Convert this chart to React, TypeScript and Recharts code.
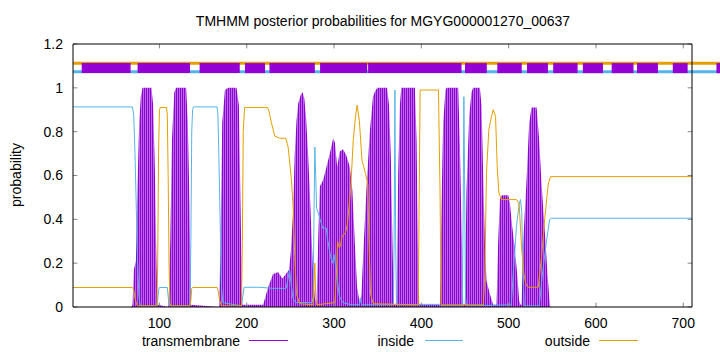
import React from 'react';
import { ComposedChart, Area, Line, XAxis, YAxis, ReferenceLine } from 'recharts';

// sequence range and axis ticks
const seqStart = 1;
const seqEnd = 710;
const xTicks = [100, 200, 300, 400, 500, 600, 700];
const yTicks = [0, 0.2, 0.4, 0.6, 0.8, 1, 1.2];

// posterior probabilities: [residue, probability]
const transmembrane: [number, number][] = [
  [1, 0], [68, 0], [69.2, 0.01], [70.7, 0.17], [73, 0.21], [74.9, 0.56], [76.8, 0.84], [78.7, 0.96],
  [80.6, 1], [90.9, 1], [92.8, 0.92], [94.7, 0.64], [96.7, 0.18], [97.8, 0.01], [110, 0],
  [110.5, 0.01], [112.4, 0.3], [114.3, 0.76], [117, 0.98], [119, 1], [130.6, 1], [132.5, 0.84],
  [134.5, 0.46], [136, 0.01], [168, 0], [168.4, 0.01], [170, 0.3], [171.9, 0.84], [175, 0.99],
  [178.8, 1], [188.3, 1], [191, 0.92], [192.9, 0.46], [194.8, 0.01], [218.8, 0.01], [224.5, 0.09],
  [230, 0.15], [235.8, 0.16], [240.8, 0.13], [244.6, 0.15], [248.4, 0.17], [250.5, 0.25],
  [253, 0.43], [255, 0.7], [257, 0.85], [259, 0.93], [262, 0.97], [264, 0.98], [266, 0.95],
  [268, 0.86], [270, 0.72], [272, 0.55], [274, 0.35], [276, 0.15], [278, 0.04], [280, 0.02],
  [281.8, 0.3], [283.7, 0.55], [287.5, 0.58], [291.4, 0.64], [295.2, 0.7], [299, 0.77], [301, 0.75],
  [303.6, 0.64], [306.6, 0.71], [310.4, 0.72], [314.2, 0.69], [318, 0.64], [321, 0.53], [323.7, 0.3],
  [326.4, 0.09], [329.5, 0.015], [331.4, 0.06], [333.3, 0.23], [337, 0.53], [340.8, 0.79],
  [344.6, 0.96], [347.7, 0.99], [350, 1], [360.7, 1], [363, 0.92], [365, 0.69], [366.9, 0.3],
  [368.4, 0.01], [371.6, 0.01], [373.5, 0.61], [375.4, 0.92], [377, 1], [392.6, 1], [394.5, 0.76],
  [396, 0.3], [397.6, 0.01], [421.2, 0.01], [423, 0.46], [425, 0.84], [427.6, 0.99], [428.8, 1],
  [442.2, 1], [444, 0.76], [446, 0.38], [448, 0.01], [449.8, 0.01], [451.7, 0.53], [454.8, 0.87],
  [457.4, 0.98], [459.4, 1], [467, 1], [468.9, 0.92], [470.8, 0.61], [472.7, 0.3], [474.6, 0.12],
  [478.4, 0.06], [482.2, 0.01], [486.1, 0.01], [488, 0.3], [490, 0.49], [492, 0.51], [499.6, 0.51],
  [501.5, 0.47], [504, 0.37], [507, 0.27], [509.8, 0.15], [512, 0.03], [513.6, 0.01], [514.8, 0.01],
  [516.7, 0.3], [520.5, 0.58], [523.5, 0.84], [526.2, 0.91], [532, 0.91], [535, 0.76], [537.7, 0.56],
  [541.5, 0.34], [544.5, 0.15], [547.2, 0.01], [548, 0], [710, 0],
];

const inside: [number, number][] = [
  [1, 0.913], [69, 0.913], [70.5, 0.88], [72, 0.7], [73.5, 0.45], [75, 0.2], [76.5, 0.05], [78, 0.005],
  [97, 0.005], [98, 0.03], [99, 0.075], [100, 0.089], [109, 0.089], [110, 0.05], [111, 0.01],
  [112, 0.005], [135, 0.005], [136, 0.3], [137, 0.8], [138, 0.9], [139, 0.913], [166, 0.913],
  [167, 0.88], [168, 0.7], [169.5, 0.4], [171, 0.1], [172.5, 0.02], [194, 0.005], [195.5, 0.05],
  [197, 0.09], [215, 0.09], [230, 0.085], [245, 0.085], [247, 0.12], [249, 0.17], [251, 0.1],
  [253, 0.04], [256, 0.02], [275, 0.02], [276, 0.05], [277, 0.4], [278, 0.73], [279, 0.6],
  [280, 0.45], [282, 0.43], [284, 0.4], [287, 0.36], [291, 0.36], [293, 0.3], [296, 0.23],
  [298, 0.2], [300, 0.24], [303, 0.15], [306, 0.05], [310, 0.02], [320, 0.01], [329, 0.01],
  [330, 0.04], [331.5, 0.01], [368, 0.01], [368.8, 0.3], [369.7, 0.99], [370.6, 0.3], [371.5, 0.01],
  [397, 0.01], [398.5, 0.012], [420, 0.012], [422, 0.005], [447, 0.005], [448, 0.5], [448.7, 0.96],
  [449.5, 0.6], [450.5, 0.05], [451.5, 0.005], [503, 0.01], [505.2, 0.15], [509, 0.37], [512, 0.47],
  [513.6, 0.49], [515, 0.43], [516.6, 0.15], [517.8, 0.005], [535, 0.005], [538.7, 0.15],
  [543.3, 0.3], [547, 0.4], [549, 0.405], [710, 0.405],
];

const outside: [number, number][] = [
  [1, 0.089], [69, 0.089], [70.5, 0.08], [72, 0.04], [74, 0.01], [76, 0.005], [97, 0.005], [98, 0.2],
  [99, 0.7], [100, 0.9], [101, 0.91], [108, 0.91], [109, 0.88], [110, 0.6], [111, 0.2], [112, 0.02],
  [113, 0.005], [135, 0.005], [136, 0.03], [137, 0.085], [138, 0.089], [166, 0.089], [167, 0.08],
  [169, 0.03], [171, 0.005], [194, 0.005], [195, 0.3], [196, 0.8], [197.5, 0.91], [224, 0.91],
  [225.7, 0.89], [228.3, 0.84], [232.1, 0.78], [237.8, 0.77], [244.7, 0.77], [247.4, 0.73],
  [251.2, 0.58], [253.1, 0.46], [255, 0.23], [256.9, 0.06], [260.7, 0.015], [276, 0.01], [277, 0.1],
  [278, 0.2], [279, 0.05], [280, 0.01], [301, 0.02], [302.7, 0.15], [304, 0.3], [306, 0.27],
  [307.5, 0.28], [309, 0.32], [313, 0.34], [315, 0.37], [318.9, 0.53], [322, 0.76], [324.6, 0.87],
  [326.5, 0.92], [329, 0.85], [332, 0.67], [336, 0.61], [338.7, 0.56], [340, 0.3], [341.8, 0.06],
  [344.8, 0.015], [396.5, 0.01], [397.5, 0.5], [398.6, 0.99], [419.6, 0.99], [421.5, 0.5],
  [422.5, 0.01], [471, 0.01], [472.7, 0.15], [474.6, 0.61], [477.3, 0.81], [480.4, 0.87],
  [482.3, 0.9], [485, 0.87], [486.9, 0.64], [488.8, 0.52], [491.9, 0.49], [509, 0.49], [512, 0.47],
  [514.8, 0.27], [517.5, 0.15], [520, 0.1], [522.4, 0.09], [533.9, 0.09], [537.7, 0.23],
  [541.5, 0.41], [545.3, 0.56], [548, 0.595], [710, 0.595],
];

// predicted topology band at the top of the plot
const bandOutsideY = 1.112;
const bandTmY = 1.09;
const bandInsideY = 1.073;
const bandEnd = 745;
const tmSegments: [number, number][] = [
  [11, 67], [75, 135], [146, 192], [198, 221], [226, 278], [284, 338], [339, 446], [450, 475],
  [487, 515], [521, 545], [551, 579], [585, 608], [618, 643], [647, 671], [688, 705], [738, 760],
];

const PURPLE = '#9400d3';
const BLUE = '#56b4e9';
const ORANGE = '#e69f00';
const FONT = '"Liberation Sans", Arial, sans-serif';

const toPoints = (arr: [number, number][]) => arr.map(([x, y]) => ({ x, y }));

const tmData = toPoints(transmembrane);
const insideData = toPoints(inside);
const outsideData = toPoints(outside);

const W = 720;
const H = 352;

const fmt = (v: number) => String(Number(v.toFixed(1)));

export default function App() {
  const xTickLen = 0.02;
  const yTickLen = 5;
  return (
    <div style={{ position: 'absolute', left: 0, top: 0, width: W, height: H, fontFamily: FONT, background: '#fff' }}>
      <div style={{ position: 'absolute', left: 73, width: 620, top: 13, textAlign: 'center', fontSize: 14, lineHeight: '16px' }}>
        TMHMM posterior probabilities for MGYG000001270_00637
      </div>
      <div style={{ position: 'absolute', left: 16, top: 175, fontSize: 14, lineHeight: '16px', transform: 'translate(-50%, -50%) rotate(-90deg)', whiteSpace: 'nowrap' }}>
        probability
      </div>
      <ComposedChart width={W} height={H} margin={{ top: 44, right: 28, bottom: 0, left: 0 }}>
        <defs>
          <pattern id="tmStripes" width="2" height="4" patternUnits="userSpaceOnUse">
            <rect x="0" y="0" width="1" height="4" fill="#9400d3" />
            <rect x="1" y="0" width="1" height="4" fill="#b46ae4" />
          </pattern>
        </defs>
        <XAxis
          type="number"
          dataKey="x"
          domain={[seqStart, seqEnd]}
          ticks={xTicks}
          allowDataOverflow
          height={45}
          tickSize={0}
          tickMargin={11}
          axisLine={{ stroke: '#000' }}
          tick={{ fill: '#000', fontSize: 14, fontFamily: FONT }}
        />
        <YAxis
          type="number"
          domain={[0, 1.2]}
          ticks={yTicks}
          allowDataOverflow
          width={73}
          tickSize={0}
          tickMargin={10}
          tickFormatter={fmt}
          axisLine={{ stroke: '#000' }}
          tick={{ fill: '#000', fontSize: 14, fontFamily: FONT }}
        />
        <Area
          type="linear"
          data={tmData}
          dataKey="y"
          fill="url(#tmStripes)"
          fillOpacity={1}
          stroke="none"
          isAnimationActive={false}
        />
        <Line type="linear" data={insideData} dataKey="y" stroke={BLUE} strokeWidth={1} dot={false} isAnimationActive={false} />
        <Line type="linear" data={outsideData} dataKey="y" stroke={ORANGE} strokeWidth={1} dot={false} isAnimationActive={false} />

        <ReferenceLine segment={[{ x: seqStart, y: bandOutsideY }, { x: bandEnd, y: bandOutsideY }]} stroke={ORANGE} strokeWidth={3} ifOverflow="visible" />
        <ReferenceLine segment={[{ x: seqStart, y: bandInsideY }, { x: bandEnd, y: bandInsideY }]} stroke={BLUE} strokeWidth={3} ifOverflow="visible" />
        {tmSegments.map(([a, b], i) => (
          <ReferenceLine key={`tm-${i}`} segment={[{ x: a, y: bandTmY }, { x: b, y: bandTmY }]} stroke={PURPLE} strokeWidth={10} ifOverflow="visible" />
        ))}

        {/* inward ticks, gnuplot style, mirrored */}
        {xTicks.map((t) => (
          <ReferenceLine key={`xb-${t}`} segment={[{ x: t, y: 0 }, { x: t, y: xTickLen }]} stroke="#888" />
        ))}
        {xTicks.map((t) => (
          <ReferenceLine key={`xt-${t}`} segment={[{ x: t, y: 1.2 }, { x: t, y: 1.2 - xTickLen }]} stroke="#888" />
        ))}
        {yTicks.map((t) => (
          <ReferenceLine key={`yl-${t}`} segment={[{ x: seqStart, y: t }, { x: seqStart + yTickLen, y: t }]} stroke="#888" />
        ))}
        {yTicks.map((t) => (
          <ReferenceLine key={`yr-${t}`} segment={[{ x: seqEnd - yTickLen, y: t }, { x: seqEnd, y: t }]} stroke="#888" />
        ))}
        <ReferenceLine y={1.2} stroke="#000" />
        <ReferenceLine x={seqEnd} stroke="#000" />
      </ComposedChart>

      {/* key */}
      <div style={{ position: 'absolute', right: W - 240, top: 333, fontSize: 14, lineHeight: '16px' }}>transmembrane</div>
      <div style={{ position: 'absolute', left: 249, width: 39, top: 340, height: 1, background: PURPLE }} />
      <div style={{ position: 'absolute', right: W - 414, top: 333, fontSize: 14, lineHeight: '16px' }}>inside</div>
      <div style={{ position: 'absolute', left: 425, width: 38, top: 340, height: 1, background: BLUE }} />
      <div style={{ position: 'absolute', right: W - 590, top: 333, fontSize: 14, lineHeight: '16px' }}>outside</div>
      <div style={{ position: 'absolute', left: 599, width: 39, top: 340, height: 1, background: ORANGE }} />
    </div>
  );
}
